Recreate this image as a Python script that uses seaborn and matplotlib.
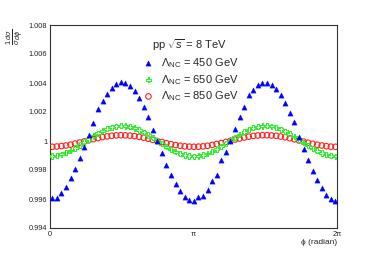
import numpy as np
import pandas as pd
import matplotlib
matplotlib.use("Agg")
import matplotlib.pyplot as plt
import seaborn as sns
from matplotlib.ticker import FixedLocator, MultipleLocator, FixedFormatter

# ---- data ----
phi = [0.05 + 0.1 * i for i in range(63)]  # bin centres, width 0.1 rad

lam450 = [0.99609, 0.99609, 0.99639, 0.99685, 0.99743, 0.99807, 0.99883, 0.99961, 1.00041, 1.00122,
          1.00223, 1.00276, 1.00324, 1.00366, 1.00391, 1.00405, 1.00400, 1.00381, 1.00345, 1.00294,
          1.00234, 1.00168, 1.00074, 1.00000, 0.99915, 0.99837, 0.99766, 0.99706, 0.99657, 0.99616,
          0.99593, 0.99584, 0.99616, 0.99621, 0.99660, 0.99726, 0.99766, 0.99869, 0.99926, 1.00002,
          1.00081, 1.00168, 1.00237, 1.00319, 1.00352, 1.00384, 1.00402, 1.00402, 1.00388, 1.00361,
          1.00317, 1.00260, 1.00195, 1.00133, 1.00030, 0.99945, 0.99869, 0.99795, 0.99731, 0.99674,
          0.99628, 0.99598, 0.99586]

lam650 = [0.99896, 0.99900, 0.99908, 0.99920, 0.99935, 0.99952, 0.99972, 0.99993, 1.00014, 1.00034,
          1.00053, 1.00070, 1.00084, 1.00095, 1.00102, 1.00105, 1.00104, 1.00098, 1.00089, 1.00076,
          1.00060, 1.00042, 1.00022, 1.00001, 0.99980, 0.99960, 0.99942, 0.99926, 0.99912, 0.99903,
          0.99897, 0.99895, 0.99897, 0.99904, 0.99914, 0.99928, 0.99945, 0.99964, 0.99984, 1.00005,
          1.00026, 1.00045, 1.00063, 1.00079, 1.00091, 1.00099, 1.00104, 1.00105, 1.00101, 1.00093,
          1.00082, 1.00068, 1.00050, 1.00031, 1.00010, 0.99989, 0.99969, 0.99949, 0.99932, 0.99917,
          0.99906, 0.99899, 0.99895]

lam850 = [0.99960, 0.99962, 0.99965, 0.99969, 0.99975, 0.99982, 0.99989, 0.99997, 1.00005, 1.00013,
          1.00020, 1.00027, 1.00032, 1.00036, 1.00039, 1.00040, 1.00039, 1.00037, 1.00034, 1.00029,
          1.00023, 1.00016, 1.00008, 1.00000, 0.99993, 0.99985, 0.99978, 0.99972, 0.99967, 0.99963,
          0.99961, 0.99960, 0.99961, 0.99963, 0.99967, 0.99973, 0.99979, 0.99986, 0.99994, 1.00002,
          1.00010, 1.00017, 1.00024, 1.00030, 1.00035, 1.00038, 1.00040, 1.00040, 1.00038, 1.00036,
          1.00031, 1.00026, 1.00019, 1.00012, 1.00004, 0.99996, 0.99988, 0.99981, 0.99974, 0.99969,
          0.99964, 0.99961, 0.99960]

labels = [r"$\Lambda_{\mathrm{NC}}$ = 450 GeV",
          r"$\Lambda_{\mathrm{NC}}$ = 650 GeV",
          r"$\Lambda_{\mathrm{NC}}$ = 850 GeV"]
legend_title = r"pp $\sqrt{s}$ = 8 TeV"
ytick_vals = [0.994, 0.996, 0.998, 1.000, 1.002, 1.004, 1.006, 1.008]
ytick_labels = ["0.994", "0.996", "0.998", "1", "1.002", "1.004", "1.006", "1.008"]
xtick_vals = [0, np.pi, 2 * np.pi]
xtick_labels = ["0", "π", "2π"]

# ---- style ----
sns.set_theme(style="white")
plt.rcParams["font.family"] = ["Liberation Sans", "DejaVu Sans"]
plt.rcParams["mathtext.fontset"] = "custom"
plt.rcParams["mathtext.rm"] = "Liberation Sans"
plt.rcParams["mathtext.it"] = "Liberation Sans:italic"
plt.rcParams["mathtext.bf"] = "Liberation Sans:bold"

fig = plt.figure(figsize=(3.74, 2.54), dpi=100)
ax = fig.add_axes([50 / 374, 1 - 228 / 254, 287 / 374, 203 / 254])

df = pd.DataFrame({"phi": phi, "l450": lam450, "l650": lam650, "l850": lam850})

sns.scatterplot(data=df, x="phi", y="l850", ax=ax, marker="o", s=16,
                facecolors="none", edgecolor="#ff2020", linewidth=0.8, label=labels[2], zorder=3)
sns.scatterplot(data=df, x="phi", y="l650", ax=ax, marker="P", s=14,
                facecolors="none", edgecolor="#33ee33", linewidth=0.8, label=labels[1], zorder=4)
sns.scatterplot(data=df, x="phi", y="l450", ax=ax, marker="^", s=14,
                color="#0000ff", edgecolor="#0000ff", linewidth=0.3, label=labels[0], zorder=5)

ax.set_xlim(0, 2 * np.pi)
ax.set_ylim(0.994, 1.008)
ax.xaxis.set_major_locator(FixedLocator(xtick_vals))
ax.xaxis.set_major_formatter(FixedFormatter(xtick_labels))
ax.xaxis.set_minor_locator(MultipleLocator(np.pi / 32))
ax.yaxis.set_major_locator(FixedLocator(ytick_vals))
ax.yaxis.set_major_formatter(FixedFormatter(ytick_labels))
ax.yaxis.set_minor_locator(MultipleLocator(0.0005))
ax.tick_params(axis="both", which="both", direction="in", colors="#222222",
               labelsize=5.3, pad=2, width=0.6)
ax.tick_params(axis="y", which="major", length=8)
ax.tick_params(axis="y", which="minor", length=4)
ax.tick_params(axis="x", which="major", length=6)
ax.tick_params(axis="x", which="minor", length=3)
for sp in ax.spines.values():
    sp.set_color("#333333")
    sp.set_linewidth(0.8)
ax.set_xlabel("")
ax.set_ylabel("")

fig.text(337 / 374, 1 - 243 / 254, "ϕ (radian)", ha="right", va="center", fontsize=6,
         family=["Liberation Sans", "DejaVu Sans"])
fig.text(15 / 374, 1 - 37 / 254, r"$\frac{1}{\sigma}\frac{d\sigma}{d\phi}$", rotation=90,
         ha="center", va="center", fontsize=7.5)

h, l = ax.get_legend_handles_labels()
order = [2, 1, 0]
leg = ax.legend([h[i] for i in order], [l[i] for i in order], title=legend_title,
                loc="upper left", bbox_to_anchor=((134 - 50) / 287, 1 - (30 - 25) / 203),
                frameon=False, fontsize=8, title_fontsize=8, handletextpad=0.5,
                handlelength=1.2, labelspacing=0.25, borderpad=0.2, markerscale=1.0)

fig.savefig("out.png", dpi=100)
